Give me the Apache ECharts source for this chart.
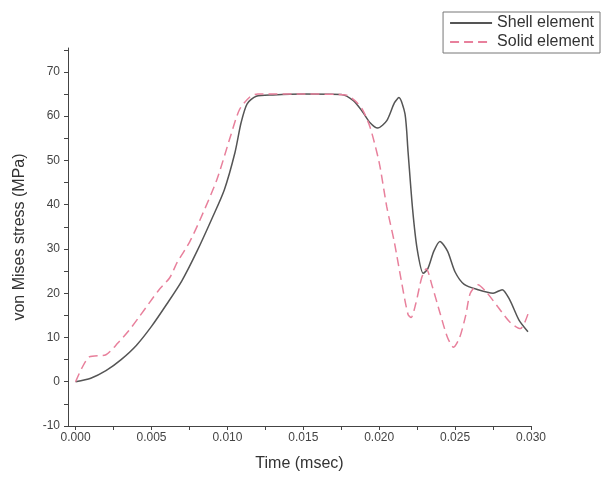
<!DOCTYPE html>
<html>
<head>
<meta charset="utf-8">
<script src="https://cdn.jsdelivr.net/npm/echarts@6/dist/echarts.min.js"></script>
<style>
  html, body { margin: 0; padding: 0; background: #fff; }
  #chart { width: 609px; height: 487px; }
</style>
</head>
<body>
<div id="chart"></div>
<script>
// shell element curve (time in msec, stress in MPa)
var shellTime = [0, 0.001, 0.002, 0.003, 0.004, 0.005, 0.006, 0.007, 0.008, 0.009, 0.0098, 0.0105, 0.0109, 0.0113, 0.0119, 0.013, 0.015, 0.0175, 0.0183, 0.0189, 0.0194, 0.0199, 0.0205, 0.021, 0.0213, 0.0217, 0.0219, 0.0222, 0.0225, 0.0229, 0.0232, 0.0236, 0.024, 0.0245, 0.025, 0.0256, 0.0265, 0.0275, 0.0281, 0.0286, 0.0292, 0.0298];
var shellStress = [0, 0.8, 2.5, 5, 8.2, 12.5, 17.5, 22.8, 29.5, 37, 43.4, 51.8, 58.5, 62.8, 64.5, 64.8, 65, 64.9, 63.5, 61, 58.5, 57.3, 59, 63, 64.2, 60.5, 52, 39, 30, 24.5, 25.5, 29.5, 31.7, 29.5, 24.8, 22, 20.8, 20, 20.8, 18.5, 14, 11.3];

// solid element curve
var solidTime = [0, 0.0004, 0.0009, 0.002, 0.0028, 0.0035, 0.0042, 0.0055, 0.0062, 0.0067, 0.0075, 0.0082, 0.0093, 0.0102, 0.0108, 0.0115, 0.012, 0.015, 0.0178, 0.0184, 0.0189, 0.0194, 0.02, 0.0205, 0.021, 0.0215, 0.0219, 0.0221, 0.0224, 0.0228, 0.0231, 0.0235, 0.024, 0.0245, 0.0249, 0.0253, 0.0257, 0.026, 0.0265, 0.027, 0.0278, 0.0286, 0.0293, 0.0296, 0.0299];
var solidStress = [0, 3, 5.6, 6.1, 8.8, 11.5, 14.7, 20.8, 23.5, 27, 31.5, 36.6, 45.6, 55.4, 61.5, 64.4, 65, 65, 64.8, 63.5, 61.5, 57.5, 49.5, 39.5, 31.5, 22, 15.2, 14.5, 17.5, 23.5, 25.5, 21.5, 15.6, 10, 7.8, 10, 15, 20, 21.9, 20.5, 17, 13.5, 12, 13.5, 16.3];

// ticks
var xLabels = [0, 0.005, 0.01, 0.015, 0.02, 0.025, 0.03];
var xTicks = [0, 0.0025, 0.005, 0.0075, 0.01, 0.0125, 0.015, 0.0175, 0.02, 0.0225, 0.025, 0.0275, 0.03];
var yLabels = [-10, 0, 10, 20, 30, 40, 50, 60, 70];
var yTicks = [-10, -5, 0, 5, 10, 15, 20, 25, 30, 35, 40, 45, 50, 55, 60, 65, 70, 75];

function pairs(xs, ys) {
  var out = [];
  for (var i = 0; i < xs.length; i++) out.push([xs[i], ys[i]]);
  return out;
}

var axisColor = '#444';
var chart = echarts.init(document.getElementById('chart'));
chart.setOption({
  animation: false,
  textStyle: { fontFamily: 'Liberation Sans, Arial, sans-serif' },
  grid: { left: 68, right: 78, top: 48, bottom: 61 },
  legend: {
    orient: 'vertical',
    right: 9,
    top: 12,
    itemWidth: 42,
    itemHeight: 10,
    itemGap: 3,
    padding: [3, 6, 3, 6],
    borderColor: '#777',
    borderWidth: 1,
    itemStyle: { opacity: 0 },
    textStyle: { fontSize: 16, color: '#333' },
    data: ['Shell element', 'Solid element']
  },
  xAxis: {
    type: 'value',
    min: -0.0005,
    max: 0.03,
    name: 'Time (msec)',
    nameLocation: 'middle',
    nameGap: 30,
    nameTextStyle: { fontSize: 16, color: '#333' },
    axisLine: { onZero: false, lineStyle: { color: axisColor, width: 1 } },
    axisTick: { show: true, length: 4, customValues: xTicks, lineStyle: { color: axisColor } },
    axisLabel: {
      customValues: xLabels,
      fontSize: 12,
      color: '#444',
      margin: 6,
      formatter: function (v) { return v.toFixed(3); }
    },
    splitLine: { show: false }
  },
  yAxis: {
    type: 'value',
    min: -10,
    max: 75.4,
    name: 'von Mises stress (MPa)',
    nameLocation: 'middle',
    nameGap: 40,
    nameTextStyle: { fontSize: 16, color: '#333' },
    axisLine: { show: true, onZero: false, lineStyle: { color: axisColor, width: 1 } },
    axisTick: { show: true, length: 4, customValues: yTicks, lineStyle: { color: axisColor } },
    axisLabel: { customValues: yLabels, fontSize: 12, color: '#444', margin: 8 },
    splitLine: { show: false }
  },
  series: [
    {
      name: 'Shell element',
      type: 'line',
      symbol: 'none',
      smooth: 0.25,
      color: '#555',
      lineStyle: { color: '#555', width: 1.5 },
      data: pairs(shellTime, shellStress)
    },
    {
      name: 'Solid element',
      type: 'line',
      symbol: 'none',
      smooth: 0.25,
      color: '#e8809c',
      lineStyle: { color: '#e8809c', width: 1.5, type: [9, 5] },
      data: pairs(solidTime, solidStress)
    }
  ]
});
</script>
</body>
</html>
